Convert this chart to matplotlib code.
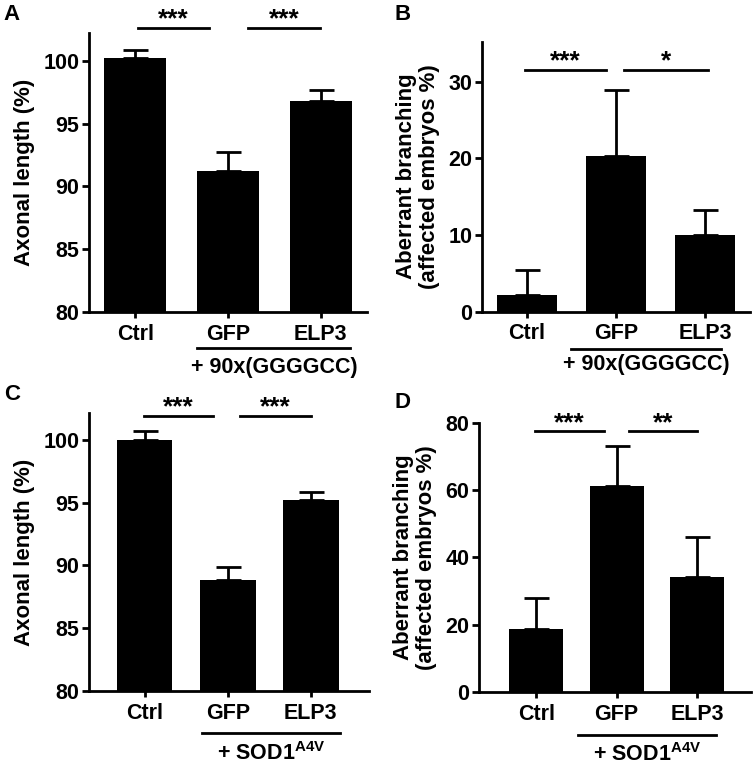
import matplotlib
matplotlib.use('Agg')
import matplotlib.pyplot as plt
from matplotlib.transforms import offset_copy

plt.rcParams['font.family'] = ['Liberation Sans', 'DejaVu Sans']
plt.rcParams['font.weight'] = 'bold'
plt.rcParams['mathtext.fontset'] = 'custom'
plt.rcParams['mathtext.rm'] = 'Liberation Sans:bold'
plt.rcParams['mathtext.bf'] = 'Liberation Sans:bold'

groups = ['Ctrl', 'GFP', 'ELP3']

# panel A: axonal length, 90x(GGGGCC)
a_vals = [100.18, 91.2, 96.8]
a_err = [0.7, 1.5, 0.85]
# panel B: aberrant branching, 90x(GGGGCC)
b_vals = [2.2, 20.3, 10.0]
b_err = [3.2, 8.6, 3.25]
# panel C: axonal length, SOD1 A4V
c_vals = [100.0, 88.86, 95.17]
c_err = [0.7, 1.0, 0.67]
# panel D: aberrant branching, SOD1 A4V
d_vals = [18.7, 61.3, 34.3]
d_err = [9.3, 11.8, 11.9]

fig = plt.figure(figsize=(7.56, 7.69), dpi=100)

panels = [
    ('A', [0.1177, 0.5943, 0.3678, 0.3627], a_vals, a_err, (80, 102.2), [80, 85, 90, 95, 100],
     'Axonal length (%)', (-0.5, 2.5), [((0.03, 0.80), '***'), ((1.22, 1.99), '***')], 102.64,
     '+ 90x(GGGGCC)', (0.67, 2.32), (-26, -40)),
    ('B', [0.6376, 0.5947, 0.3545, 0.3511], b_vals, b_err, (0, 35.2), [0, 10, 20, 30],
     'Aberrant branching\n(affected embryos %)', (-0.5, 2.5), [((-0.02, 0.89), '***'), ((1.09, 2.03), '*')], 31.5,
     '+ 90x(GGGGCC)', (0.50, 2.18), (-27, -38)),
    ('C', [0.1177, 0.1014, 0.3703, 0.3611], c_vals, c_err, (80, 102.1), [80, 85, 90, 95, 100],
     'Axonal length (%)', (-0.67, 2.7), [((-0.01, 0.82), '***'), ((1.15, 2.0), '***')], 101.9,
     '+ SOD1$^{\\mathbf{A4V}}$', (0.69, 2.35), (-30, -45)),
    ('D', [0.6336, 0.1001, 0.3598, 0.3499], d_vals, d_err, (0, 80), [0, 20, 40, 60, 80],
     'Aberrant branching\n(affected embryos %)', (-0.71, 2.67), [((-0.01, 0.84), '***'), ((1.15, 2.0), '**')], 77.5,
     '+ SOD1$^{\\mathbf{A4V}}$', (0.52, 2.23), (-31, -45)),
]

letter_pos = {'A': (0.005, 0.995), 'B': (0.522, 0.995), 'C': (0.005, 0.5), 'D': (0.522, 0.49)}

for letter, rect, vals, err, ylim, ticks, ylabel, xlim, sig, sig_y, glabel, gline, goff in panels:
    ax = fig.add_axes(rect)
    x = range(len(groups))
    ax.bar(x, vals, width=0.67, color='black', zorder=2)
    ax.errorbar(x, vals, yerr=[[0] * 3, err], fmt='none', ecolor='black',
                elinewidth=2, capsize=9, capthick=2, zorder=1)
    ax.set_xlim(*xlim)
    ax.set_ylim(*ylim)
    ax.set_yticks(ticks)
    ax.set_xticks(list(x))
    ax.set_xticklabels(groups)
    ax.set_ylabel(ylabel, fontsize=16, fontweight='bold', linespacing=1.15, labelpad=6)
    for s in ['top', 'right']:
        ax.spines[s].set_visible(False)
    for s in ['left', 'bottom']:
        ax.spines[s].set_linewidth(2)
    ax.tick_params(axis='y', width=2, length=5, labelsize=15.5, pad=2)
    ax.tick_params(axis='x', width=2, length=4.5, labelsize=15.5, pad=4)

    # significance bars
    for (x0, x1), stars in sig:
        ax.plot([x0, x1], [sig_y, sig_y], color='black', lw=2, clip_on=False)
        ax.annotate(stars, xy=((x0 + x1) / 2, sig_y), xytext=(0, 1), textcoords='offset points',
                    ha='center', va='baseline', fontsize=19, fontweight='bold',
                    annotation_clip=False)

    # group underline and label
    trans = ax.get_xaxis_transform()
    t1 = offset_copy(trans, fig=fig, x=0, y=goff[0], units='points')
    t2 = offset_copy(trans, fig=fig, x=0, y=goff[1], units='points')
    ax.plot(gline, [0, 0], transform=t1, color='black', lw=2, clip_on=False)
    ax.text(sum(gline) / 2, 0, glabel, transform=t2, ha='center', va='center',
            fontsize=15.5, fontweight='bold')

    fig.text(letter_pos[letter][0], letter_pos[letter][1], letter, fontsize=16,
             fontweight='bold', ha='left', va='top')

fig.savefig('out.png', dpi=100)
